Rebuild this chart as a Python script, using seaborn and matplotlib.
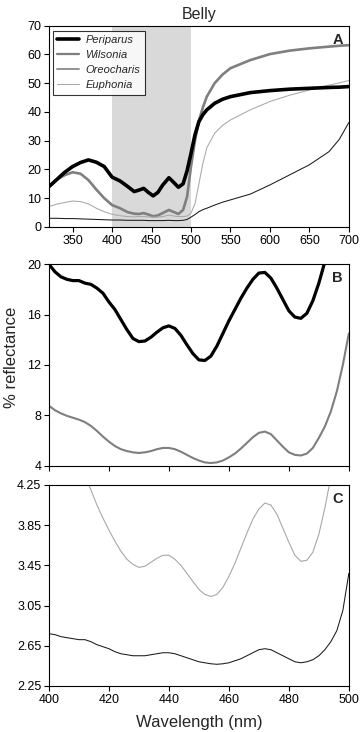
import numpy as np
import pandas as pd
import matplotlib
matplotlib.use("Agg")
import matplotlib.pyplot as plt
from matplotlib.lines import Line2D
import seaborn as sns

sns.set_theme(style="ticks")
plt.rcParams['font.family'] = ['Liberation Sans', 'DejaVu Sans']

# ---- panel A : full spectrum ----
wl_a = [320, 330, 340, 350, 360, 370, 380, 390, 400, 410, 420, 428, 434, 440, 446,
        452, 458, 464, 472, 478, 484, 490, 495, 500, 505, 510, 515, 520, 530, 540,
        550, 575, 600, 625, 650, 675, 688, 700]
periparus_a = [14.0, 16.5, 19.0, 21.0, 22.4, 23.3, 22.5, 21.0, 17.3, 16.0, 14.0, 12.3, 12.8,
               13.4, 12.0, 10.8, 12.0, 14.5, 17.1, 15.5, 13.8, 15.0, 19.5, 25.6, 32.0, 36.6,
               39.0, 40.7, 43.0, 44.4, 45.3, 46.7, 47.4, 47.9, 48.2, 48.5, 48.6, 48.8]
wilsonia_a = [14.0, 16.5, 18.0, 19.0, 18.5, 16.3, 13.0, 10.0, 7.6, 6.5, 5.1, 4.6, 4.5, 4.8,
              4.3, 3.7, 4.0, 4.8, 5.9, 5.2, 4.5, 5.9, 10.5, 21.0, 30.0, 37.0, 41.5, 45.3,
              50.0, 53.0, 55.2, 58.0, 60.1, 61.3, 62.1, 62.7, 63.0, 63.2]
oreocharis_a = [3.0, 3.0, 2.9, 2.9, 2.8, 2.7, 2.6, 2.5, 2.4, 2.4, 2.3, 2.3, 2.3, 2.3, 2.2,
                2.2, 2.2, 2.2, 2.3, 2.2, 2.2, 2.3, 2.6, 3.4, 4.3, 5.3, 6.0, 6.5, 7.6, 8.6,
                9.4, 11.4, 14.6, 18.1, 21.6, 26.2, 30.5, 36.3]
euphonia_a = [7.1, 7.9, 8.5, 9.0, 8.8, 8.0, 6.5, 5.3, 4.4, 3.9, 3.6, 3.5, 3.6, 3.6, 3.5,
              3.4, 3.4, 3.6, 4.1, 3.8, 3.6, 3.6, 3.8, 4.8, 8.0, 15.0, 22.0, 27.5, 32.6,
              35.3, 37.2, 40.7, 43.6, 45.8, 47.6, 49.3, 50.1, 50.9]

# ---- panels B and C : 400-500 nm ----
wl_z = list(range(400, 501, 2))
periparus_z = [20.0, 19.4, 19.0, 18.8, 18.7, 18.7, 18.5, 18.4, 18.1, 17.7, 17.0, 16.4, 15.6,
               14.8, 14.1, 13.85, 13.9, 14.2, 14.6, 14.95, 15.1, 14.9, 14.35, 13.6, 12.9,
               12.4, 12.35, 12.7, 13.5, 14.5, 15.5, 16.4, 17.3, 18.1, 18.8, 19.3, 19.35,
               18.9, 18.1, 17.2, 16.3, 15.8, 15.7, 16.1, 17.1, 18.5, 20.2, 22.0, 24.0,
               26.0, 28.5]
wilsonia_z = [8.75, 8.4, 8.15, 7.95, 7.8, 7.65, 7.45, 7.15, 6.75, 6.3, 5.9, 5.55, 5.3, 5.15,
              5.05, 5.0, 5.05, 5.15, 5.3, 5.4, 5.4, 5.3, 5.1, 4.85, 4.6, 4.4, 4.25, 4.2,
              4.25, 4.4, 4.65, 4.95, 5.35, 5.8, 6.25, 6.6, 6.7, 6.5, 6.0, 5.5, 5.05, 4.85,
              4.8, 4.95, 5.4, 6.2, 7.1, 8.3, 9.9, 12.0, 14.5]
euphonia_z = [5.3, 5.1, 4.95, 4.8, 4.65, 4.5, 4.35, 4.2, 4.05, 3.92, 3.8, 3.69, 3.59, 3.51,
              3.46, 3.43, 3.44, 3.48, 3.52, 3.55, 3.55, 3.51, 3.45, 3.37, 3.29, 3.21, 3.16,
              3.14, 3.16, 3.23, 3.34, 3.47, 3.62, 3.77, 3.91, 4.01, 4.07, 4.05, 3.96, 3.82,
              3.68, 3.55, 3.49, 3.5, 3.58, 3.76, 4.02, 4.33, 4.7, 5.1, 5.5]
oreocharis_z = [2.77, 2.76, 2.74, 2.73, 2.72, 2.71, 2.71, 2.69, 2.66, 2.64, 2.62, 2.59, 2.57,
                2.56, 2.55, 2.55, 2.55, 2.56, 2.57, 2.58, 2.58, 2.57, 2.55, 2.53, 2.51, 2.49,
                2.48, 2.47, 2.465, 2.47, 2.48, 2.5, 2.52, 2.55, 2.58, 2.61, 2.62, 2.61, 2.58,
                2.55, 2.52, 2.49, 2.48, 2.49, 2.51, 2.55, 2.61, 2.69, 2.8, 3.0, 3.37]

species = ['Periparus', 'Wilsonia', 'Oreocharis', 'Euphonia']
line_color = {'Periparus': 'black', 'Wilsonia': '#7f7f7f', 'Oreocharis': '#1a1a1a', 'Euphonia': '#a8a8a8'}
line_width = {'Periparus': 2.6, 'Wilsonia': 1.9, 'Oreocharis': 0.75, 'Euphonia': 0.75}

fig = plt.figure(figsize=(3.6, 7.32), dpi=100)
ax_a = fig.add_axes([0.136, 0.690, 0.833, 0.275])
ax_b = fig.add_axes([0.136, 0.364, 0.833, 0.275])
ax_c = fig.add_axes([0.136, 0.063, 0.833, 0.2745])

# panel A
ax_a.axvspan(400, 500, color='#d9d9d9', lw=0, zorder=0)
for sp, vals in zip(species, [periparus_a, wilsonia_a, oreocharis_a, euphonia_a]):
    sns.lineplot(x=wl_a, y=vals, ax=ax_a, color=line_color[sp], lw=line_width[sp], zorder=3 if sp == 'Periparus' else 2)
ax_a.set_xlim(320, 700)
ax_a.set_ylim(0, 70)
ax_a.set_xticks(range(350, 701, 50))
ax_a.set_yticks(range(0, 71, 10))
ax_a.set_title('Belly', fontsize=11.5, pad=5)

handles = [Line2D([], [], color='black', lw=2.6),
           Line2D([], [], color='#7f7f7f', lw=1.6),
           Line2D([], [], color='#8a8a8a', lw=1.3),
           Line2D([], [], color='#a8a8a8', lw=0.75)]
leg = ax_a.legend(handles, species, loc='upper left', bbox_to_anchor=(0.006, 0.985),
                  prop={'style': 'italic', 'size': 8}, frameon=True, fancybox=False,
                  edgecolor='black', handlelength=1.9, labelspacing=0.45, handletextpad=0.6,
                  borderpad=0.4, borderaxespad=0.2)
leg.get_frame().set_linewidth(0.8)

# panel B
sns.lineplot(x=wl_z, y=periparus_z, ax=ax_b, color='black', lw=2.3)
sns.lineplot(x=wl_z, y=wilsonia_z, ax=ax_b, color='#7f7f7f', lw=1.5)
ax_b.set_xlim(400, 500)
ax_b.set_ylim(4, 20)
ax_b.set_yticks([4, 8, 12, 16, 20])
ax_b.set_xticks(range(400, 501, 20))
ax_b.set_xticklabels([])

# panel C
sns.lineplot(x=wl_z, y=euphonia_z, ax=ax_c, color='#a8a8a8', lw=0.8)
sns.lineplot(x=wl_z, y=oreocharis_z, ax=ax_c, color='#1a1a1a', lw=0.75)
ax_c.set_xlim(400, 500)
ax_c.set_ylim(2.25, 4.25)
yt = [2.25, 2.65, 3.05, 3.45, 3.85, 4.25]
ax_c.set_yticks(yt)
ax_c.set_yticklabels([f"{v:.2f}" for v in yt])
ax_c.set_xticks(range(400, 501, 20))

for ax, letter in zip([ax_a, ax_b, ax_c], ['A', 'B', 'C']):
    for s in ax.spines.values():
        s.set_linewidth(0.8)
        s.set_color('black')
    ax.tick_params(direction='out', length=3.5, width=0.8, labelsize=9, pad=2, colors='black')
    ax.set_xlabel('')
    ax.set_ylabel('')
    ax.text(0.98, 0.965, letter, transform=ax.transAxes, ha='right', va='top',
            fontsize=10.5, fontweight='bold')

fig.text(12 / 360, 1 - 357 / 732, '% reflectance', rotation=90, ha='center', va='center', fontsize=12)
fig.text(199 / 360, 1 - 722 / 732, 'Wavelength (nm)', ha='center', va='center', fontsize=12)

fig.savefig('out.png', dpi=100, facecolor='white')
